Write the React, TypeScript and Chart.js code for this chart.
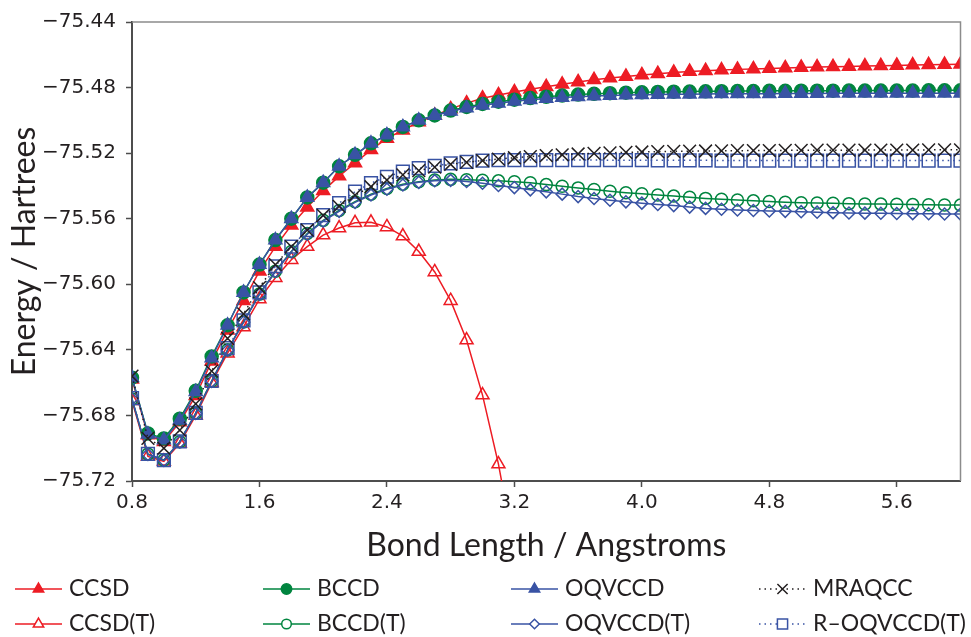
import React, { useEffect, useRef } from "react";
import { Chart, registerables } from "chart.js";
import { drawPoint } from "chart.js/helpers";

Chart.register(...registerables);

// ---------- data ----------
const BOND_LENGTH = [
  0.8, 0.9, 1.0, 1.1, 1.2, 1.3, 1.4, 1.5, 1.6, 1.7, 1.8, 1.9, 2.0, 2.1, 2.2, 2.3, 2.4, 2.5,
  2.6, 2.7, 2.8, 2.9, 3.0, 3.1, 3.2, 3.3, 3.4, 3.5, 3.6, 3.7, 3.8, 3.9, 4.0, 4.1, 4.2, 4.3,
  4.4, 4.5, 4.6, 4.7, 4.8, 4.9, 5.0, 5.1, 5.2, 5.3, 5.4, 5.5, 5.6, 5.7, 5.8, 5.9, 6.0,
];

const X_TICKS = [0.8, 1.6, 2.4, 3.2, 4.0, 4.8, 5.6];
const Y_TICKS = [-75.72, -75.68, -75.64, -75.6, -75.56, -75.52, -75.48, -75.44];

const CCSD = [
  -75.658, -75.692, -75.696, -75.684, -75.668, -75.647, -75.628, -75.61, -75.592, -75.577,
  -75.564, -75.553, -75.543, -75.534, -75.526, -75.518, -75.511, -75.506, -75.501, -75.497,
  -75.493, -75.4895, -75.4865, -75.4845, -75.4827, -75.481, -75.4795, -75.478, -75.4766,
  -75.4753, -75.4742, -75.4732, -75.4723, -75.4715, -75.4708, -75.4702, -75.4697, -75.4693,
  -75.4689, -75.4686, -75.4683, -75.468, -75.4677, -75.4675, -75.4673, -75.4671, -75.4669,
  -75.4667, -75.4665, -75.4663, -75.4661, -75.466, -75.4658,
];

const BCCD = [
  -75.657, -75.691, -75.694, -75.682, -75.665, -75.644, -75.625, -75.605, -75.588, -75.573,
  -75.56, -75.547, -75.538, -75.528, -75.521, -75.514, -75.509, -75.504, -75.5, -75.497,
  -75.494, -75.4918, -75.49, -75.4886, -75.4874, -75.4864, -75.4856, -75.4849, -75.4843,
  -75.4838, -75.4834, -75.4831, -75.4829, -75.4827, -75.4825, -75.4824, -75.4823, -75.4822,
  -75.4821, -75.4821, -75.482, -75.482, -75.4819, -75.4819, -75.4819, -75.4818, -75.4818,
  -75.4818, -75.4818, -75.4818, -75.4817, -75.4817, -75.4817,
];

const OQVCCD = [
  -75.657, -75.6915, -75.695, -75.683, -75.6655, -75.645, -75.625, -75.605, -75.588, -75.573,
  -75.56, -75.547, -75.538, -75.528, -75.521, -75.514, -75.509, -75.504, -75.5, -75.497,
  -75.4945, -75.4925, -75.4908, -75.4895, -75.4884, -75.4875, -75.4867, -75.4861, -75.4856,
  -75.4852, -75.4849, -75.4846, -75.4844, -75.4842, -75.4841, -75.484, -75.4839, -75.4838,
  -75.4838, -75.4837, -75.4837, -75.4836, -75.4836, -75.4836, -75.4835, -75.4835, -75.4835,
  -75.4835, -75.4834, -75.4834, -75.4834, -75.4834, -75.4834,
];

const MRAQCC = [
  -75.656, -75.694, -75.7, -75.689, -75.673, -75.653, -75.633, -75.618, -75.602, -75.588,
  -75.577, -75.567, -75.558, -75.5525, -75.5456, -75.5405, -75.5364, -75.5333, -75.5307,
  -75.5285, -75.5268, -75.5256, -75.5245, -75.5236, -75.5228, -75.5221, -75.5215, -75.521,
  -75.5205, -75.5201, -75.5198, -75.5195, -75.5193, -75.5191, -75.5189, -75.5188, -75.5187,
  -75.5186, -75.5185, -75.5184, -75.5184, -75.5183, -75.5183, -75.5182, -75.5182, -75.5182,
  -75.5181, -75.5181, -75.5181, -75.5181, -75.518, -75.518, -75.518,
];

// CCSD(T) diverges after ~3.1 Å (values only up to 3.2 Å)
const CCSD_T = [
  -75.671, -75.705, -75.708, -75.697, -75.68, -75.66, -75.642, -75.626, -75.609, -75.596,
  -75.585, -75.577, -75.57, -75.5657, -75.5625, -75.5622, -75.565, -75.5706, -75.58,
  -75.5925, -75.61, -75.634, -75.6676, -75.7097, -75.762,
];

const BCCD_T = [
  -75.67, -75.7036, -75.7072, -75.696, -75.6786, -75.659, -75.64, -75.623, -75.606, -75.592,
  -75.58, -75.569, -75.561, -75.555, -75.5496, -75.545, -75.5415, -75.539, -75.5374,
  -75.5364, -75.536, -75.5362, -75.5365, -75.5369, -75.5374, -75.5381, -75.5392, -75.5402,
  -75.5412, -75.5422, -75.5432, -75.5441, -75.5448, -75.5455, -75.5462, -75.5469, -75.5476,
  -75.5481, -75.5486, -75.5491, -75.5495, -75.5499, -75.5502, -75.5504, -75.5506, -75.5508,
  -75.551, -75.5511, -75.5512, -75.5514, -75.5515, -75.5516, -75.5517,
];

const OQVCCD_T = [
  -75.67, -75.7038, -75.7074, -75.6962, -75.6788, -75.6592, -75.6402, -75.6232, -75.6062,
  -75.5922, -75.5802, -75.5695, -75.5615, -75.5555, -75.55, -75.5455, -75.542, -75.5394,
  -75.5378, -75.5368, -75.5366, -75.5373, -75.5384, -75.5397, -75.541, -75.5424, -75.5436,
  -75.545, -75.5465, -75.5477, -75.5487, -75.5497, -75.5505, -75.5513, -75.552, -75.5529,
  -75.5537, -75.5542, -75.5547, -75.555, -75.5553, -75.5555, -75.5557, -75.556, -75.5563,
  -75.5565, -75.5566, -75.5567, -75.5568, -75.5569, -75.557, -75.5571, -75.5572,
];

const R_OQVCCD_T = [
  -75.6695, -75.7035, -75.7072, -75.6958, -75.6784, -75.659, -75.639, -75.622, -75.605,
  -75.589, -75.577, -75.567, -75.5578, -75.5505, -75.5435, -75.5383, -75.5344, -75.5313,
  -75.5292, -75.5277, -75.5263, -75.5253, -75.5246, -75.5243, -75.5242, -75.5242, -75.5242,
  -75.5242, -75.5242, -75.5242, -75.5243, -75.5243, -75.5243, -75.5244, -75.5244, -75.5244,
  -75.5244, -75.5245, -75.5245, -75.5245, -75.5245, -75.5245, -75.5245, -75.5245, -75.5245,
  -75.5245, -75.5245, -75.5245, -75.5245, -75.5245, -75.5245, -75.5245, -75.5245,
];

const LEGEND_ROWS = [
  ["CCSD", "BCCD", "OQVCCD", "MRAQCC"],
  ["CCSD(T)", "BCCD(T)", "OQVCCD(T)", "R\u2013OQVCCD(T)"],
];

// ---------- styles ----------
const RED = "#ED1C24";
const GREEN = "#00853F";
const BLUE = "#3953A4";
const BLACK = "#231F20";
const AXIS = "#4D4D4D";
const NONE = "rgba(0,0,0,0)";
const TITLE_FONT = "Lato";
const TICK_FONT = "DejaVu Sans";

const toPoints = (ys: number[]) => ys.map((y, i) => ({ x: BOND_LENGTH[i], y }));

function makeDataset(
  label: string,
  values: number[],
  color: string,
  pointStyle: string,
  radius: number,
  filled: boolean,
  dashed: boolean,
  order: number
) {
  return {
    label,
    data: toPoints(values),
    borderColor: color,
    backgroundColor: filled ? color : NONE,
    borderWidth: 1.5,
    borderDash: dashed ? [1.5, 4] : [],
    pointStyle,
    pointRadius: radius,
    pointBorderWidth: 1.5,
    pointBackgroundColor: filled ? color : NONE,
    pointBorderColor: color,
    tension: 0,
    order,
  };
}

const frameAndLegend = {
  id: "frameAndLegend",
  afterDraw(chart: any) {
    const ctx = chart.ctx as CanvasRenderingContext2D;
    const a = chart.chartArea;
    ctx.save();
    ctx.strokeStyle = "#8C8C8C";
    ctx.lineWidth = 1.5;
    ctx.beginPath();
    ctx.moveTo(a.left, a.top);
    ctx.lineTo(a.right, a.top);
    ctx.lineTo(a.right, a.bottom);
    ctx.stroke();

    LEGEND_ROWS.forEach((row, r) => {
      row.forEach((label, c) => {
        const ds = chart.data.datasets.find((d: any) => d.label === label);
        if (!ds) return;
        const x0 = 15 + c * 248;
        const y = 589 + r * 35;
        ctx.strokeStyle = ds.borderColor;
        ctx.lineWidth = ds.borderWidth;
        ctx.setLineDash(ds.borderDash || []);
        ctx.beginPath();
        ctx.moveTo(x0, y);
        ctx.lineTo(x0 + 47, y);
        ctx.stroke();
        ctx.setLineDash([]);
        ctx.fillStyle = ds.pointBackgroundColor === NONE ? "#FFFFFF" : ds.pointBackgroundColor;
        ctx.strokeStyle = ds.pointBorderColor;
        ctx.lineWidth = ds.pointBorderWidth;
        drawPoint(
          ctx,
          {
            pointStyle: ds.pointStyle,
            radius: ds.pointRadius * 0.8,
            borderWidth: ds.pointBorderWidth,
            rotation: 0,
          } as any,
          x0 + 23.5,
          y
        );
        ctx.fillStyle = BLACK;
        ctx.font = `23px ${TITLE_FONT}`;
        ctx.textAlign = "left";
        ctx.textBaseline = "middle";
        ctx.fillText(label, x0 + 54, y);
      });
    });
    ctx.restore();
  },
};

export default function App() {
  const canvasRef = useRef<HTMLCanvasElement | null>(null);

  useEffect(() => {
    document.body.style.margin = "0";
    document.body.style.overflow = "hidden";
    const canvas = canvasRef.current;
    if (!canvas) return;

    const datasets = [
      makeDataset("MRAQCC", MRAQCC, BLACK, "crossRot", 9, false, true, 0),
      makeDataset("R\u2013OQVCCD(T)", R_OQVCCD_T, BLUE, "rect", 9, false, true, 1),
      makeDataset("OQVCCD", OQVCCD, BLUE, "triangle", 7.5, true, false, 2),
      makeDataset("BCCD", BCCD, GREEN, "circle", 6.5, true, false, 3),
      makeDataset("CCSD", CCSD, RED, "triangle", 7.5, true, false, 4),
      makeDataset("OQVCCD(T)", OQVCCD_T, BLUE, "rectRot", 6, false, false, 5),
      makeDataset("BCCD(T)", BCCD_T, GREEN, "circle", 6, false, false, 6),
      makeDataset("CCSD(T)", CCSD_T, RED, "triangle", 7.5, false, false, 7),
    ];

    const chart = new Chart(canvas, {
      type: "line",
      data: { datasets: datasets as any },
      plugins: [frameAndLegend as any],
      options: {
        animation: false,
        responsive: true,
        maintainAspectRatio: false,
        events: [],
        layout: { padding: { top: 21, right: 4, left: 0, bottom: 72 } },
        plugins: {
          legend: { display: false },
          tooltip: { enabled: false },
        },
        scales: {
          x: {
            type: "linear",
            min: 0.8,
            max: 6.0,
            afterBuildTicks: (s: any) => {
              s.ticks = X_TICKS.map((v) => ({ value: v }));
            },
            afterFit: (s: any) => {
              s.height = 84;
            },
            ticks: {
              autoSkip: false,
              maxRotation: 0,
              padding: 4,
              color: BLACK,
              font: { family: TICK_FONT, size: 20 },
              callback: (v: any) => Number(v).toFixed(1),
            },
            grid: {
              display: true,
              drawOnChartArea: false,
              drawTicks: true,
              tickLength: 6,
              tickWidth: 1.5,
              tickColor: AXIS,
            },
            border: { display: true, color: AXIS, width: 2 },
            title: {
              display: true,
              text: "Bond Length / Angstroms",
              color: BLACK,
              font: { family: TITLE_FONT, size: 32 },
              padding: { top: 0, bottom: 0 },
            },
          },
          y: {
            type: "linear",
            min: -75.72,
            max: -75.44,
            afterBuildTicks: (s: any) => {
              s.ticks = Y_TICKS.map((v) => ({ value: v }));
            },
            afterFit: (s: any) => {
              s.width = 132;
            },
            ticks: {
              autoSkip: false,
              padding: 10,
              color: BLACK,
              font: { family: TICK_FONT, size: 20 },
              callback: (v: any) => Number(v).toFixed(2).replace("-", "\u2212"),
            },
            grid: {
              display: true,
              drawOnChartArea: false,
              drawTicks: true,
              tickLength: 6,
              tickWidth: 1.5,
              tickColor: AXIS,
            },
            border: { display: true, color: AXIS, width: 2 },
            title: {
              display: true,
              text: "Energy / Hartrees",
              color: BLACK,
              font: { family: TITLE_FONT, size: 32 },
              padding: { top: 5, bottom: 0 },
            },
          },
        },
      } as any,
    });

    return () => chart.destroy();
  }, []);

  return (
    <div style={{ position: "relative", width: 971, height: 637 }}>
      <canvas ref={canvasRef} />
    </div>
  );
}
